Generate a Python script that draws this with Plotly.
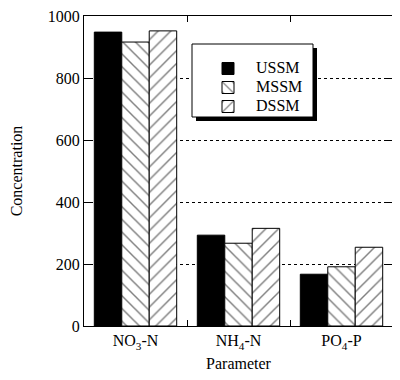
import plotly.graph_objects as go

categories = ["NO<sub>3</sub>-N", "NH<sub>4</sub>-N", "PO<sub>4</sub>-P"]
series_names = ["USSM", "MSSM", "DSSM"]
ussm = [948, 293, 167]
mssm = [916, 267, 191]
dssm = [952, 315, 254]
y_ticks = [0, 200, 400, 600, 800, 1000]

FONT = "Liberation Serif"


def lname(s):
    return '<span style="font-size:16px">\u00a0\u00a0' + s + '</span>'


fig = go.Figure()
fig.add_trace(go.Bar(name=lname(series_names[0]), x=categories, y=ussm,
                     marker=dict(color="black", line=dict(color="black", width=1))))
fig.add_trace(go.Bar(name=lname(series_names[1]), x=categories, y=mssm,
                     marker=dict(color="white", line=dict(color="black", width=1),
                                 pattern=dict(shape="\\", fgcolor="black", bgcolor="white",
                                              size=9, solidity=0.16))))
fig.add_trace(go.Bar(name=lname(series_names[2]), x=categories, y=dssm,
                     marker=dict(color="white", line=dict(color="black", width=1),
                                 pattern=dict(shape="/", fgcolor="black", bgcolor="white",
                                              size=9, solidity=0.16))))

# page is drawn with the browser's 8px body margin; compensate
OFF = 8
W, H = 400 - OFF, 380 - OFF
L, R, T, B = 84 - OFF, 7, 16 - OFF, 54
pw = W - L - R
ph = H - T - B


def px_x(v):
    return (v - OFF - L) / pw


def px_y(v):
    return (H - B - (v - OFF)) / ph


lx0, lx1, ly0, ly1 = 192, 313, 44, 117
fig.add_shape(type="rect", xref="paper", yref="paper",
              x0=px_x(lx0 + 4), x1=px_x(lx1 + 4), y0=px_y(ly1 + 4), y1=px_y(ly0 + 4),
              fillcolor="black", line=dict(width=0), layer="above")
fig.add_shape(type="rect", xref="paper", yref="paper",
              x0=px_x(lx0), x1=px_x(lx1), y0=px_y(ly1), y1=px_y(ly0),
              fillcolor="white", line=dict(color="black", width=1), layer="above")

fig.update_layout(
    width=W, height=H,
    margin=dict(l=L, r=R, t=T, b=B, autoexpand=False),
    paper_bgcolor="white", plot_bgcolor="white",
    font=dict(family=FONT, size=16, color="black"),
    barmode="group", bargap=0.2, bargroupgap=0,
    showlegend=True,
    legend=dict(x=px_x(208), y=px_y(54), xanchor="left", yanchor="top",
                bgcolor="rgba(0,0,0,0)", borderwidth=0,
                font=dict(family=FONT, size=12),
                itemwidth=30, tracegroupgap=0),
)
fig.update_xaxes(title=dict(text="Parameter", font=dict(size=16), standoff=7),
                 automargin=False,
                 showline=True, linecolor="black", linewidth=1, mirror="ticks",
                 ticks="inside", tickson="boundaries", ticklen=6, tickcolor="black",
                 tickfont=dict(size=16), showgrid=False)
fig.update_yaxes(title=dict(text="Concentration", font=dict(size=16), standoff=28),
                 automargin=False,
                 range=[0, 1000], tickvals=y_ticks, ticklabeloverflow="allow",
                 showline=True, linecolor="black", linewidth=1, mirror="ticks",
                 ticks="inside", ticklen=6, tickcolor="black",
                 tickfont=dict(size=16),
                 showgrid=True, gridcolor="black", griddash="dot", gridwidth=1,
                 zeroline=False)

fig.write_html("out.html")
